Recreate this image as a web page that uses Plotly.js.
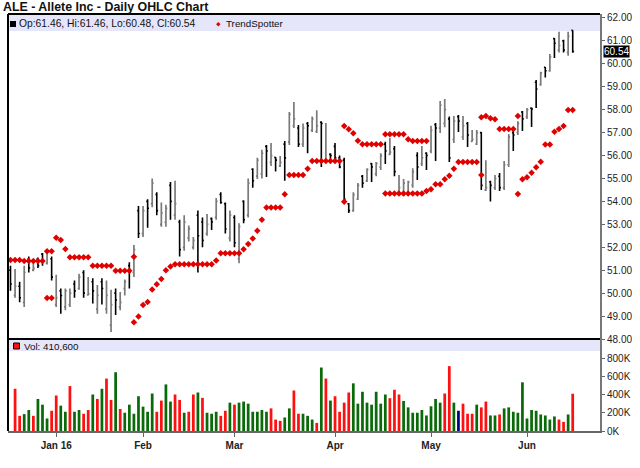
<!DOCTYPE html>
<html>
<head>
<meta charset="utf-8">
<script src="https://cdn.plot.ly/plotly-3.0.1.min.js"></script>
<style>
  html, body { margin: 0; padding: 0; background: #fff; }
  #chart { width: 640px; height: 468px; }
</style>
</head>
<body>
<div id="chart"></div>
<script>
// ---------- DATA ----------
const dates = [
"2015-12-17","2015-12-18","2015-12-21","2015-12-22","2015-12-23","2015-12-24","2015-12-28","2015-12-29","2015-12-30","2015-12-31",
"2016-01-04","2016-01-05","2016-01-06","2016-01-07","2016-01-08","2016-01-11","2016-01-12","2016-01-13","2016-01-14","2016-01-15",
"2016-01-19","2016-01-20","2016-01-21","2016-01-22","2016-01-25","2016-01-26","2016-01-27","2016-01-28","2016-01-29",
"2016-02-01","2016-02-02","2016-02-03","2016-02-04","2016-02-05","2016-02-08","2016-02-09","2016-02-10","2016-02-11","2016-02-12",
"2016-02-16","2016-02-17","2016-02-18","2016-02-19","2016-02-22","2016-02-23","2016-02-24","2016-02-25","2016-02-26","2016-02-29",
"2016-03-01","2016-03-02","2016-03-03","2016-03-04","2016-03-07","2016-03-08","2016-03-09","2016-03-10","2016-03-11",
"2016-03-14","2016-03-15","2016-03-16","2016-03-17","2016-03-18","2016-03-21","2016-03-22","2016-03-23","2016-03-24",
"2016-03-28","2016-03-29","2016-03-30","2016-03-31",
"2016-04-01","2016-04-04","2016-04-05","2016-04-06","2016-04-07","2016-04-08","2016-04-11","2016-04-12","2016-04-13","2016-04-14","2016-04-15",
"2016-04-18","2016-04-19","2016-04-20","2016-04-21","2016-04-22","2016-04-25","2016-04-26","2016-04-27","2016-04-28","2016-04-29",
"2016-05-02","2016-05-03","2016-05-04","2016-05-05","2016-05-06","2016-05-09","2016-05-10","2016-05-11","2016-05-12","2016-05-13",
"2016-05-16","2016-05-17","2016-05-18","2016-05-19","2016-05-20","2016-05-23","2016-05-24","2016-05-25","2016-05-26","2016-05-27","2016-05-31",
"2016-06-01","2016-06-02","2016-06-03","2016-06-06","2016-06-07","2016-06-08","2016-06-09","2016-06-10","2016-06-13","2016-06-14","2016-06-15"
];

const open = [
51.0,49.9,50.3,49.6,51.5,51.0,51.5,51.7,51.3,51.5,
49.5,50.1,49.4,49.5,50.4,50.2,50.9,49.92,50.5,49.3,
50.5,49.3,48.6,50.0,49.4,50.2,51.2,50.9,53.6,52.6,
54.0,53.9,54.3,53.0,53.1,54.7,53.4,53.1,52.0,52.4,
52.0,53.4,53.1,52.6,53.25,53.3,54.3,53.9,52.4,53.3,
51.5,54.0,53.4,55.4,55.1,55.2,56.4,55.7,55.92,55.55,
56.5,56.6,57.3,57.2,56.5,57.4,57.1,57.05,57.45,55.74,
56.05,56.4,55.9,55.8,53.9,53.6,54.1,55.1,54.9,55.65,
55.2,55.5,56.5,56.05,56.3,54.45,54.3,54.4,54.7,56.0,
55.65,56.1,56.2,57.35,57.2,57.4,57.6,56.7,57.7,56.8,
57.4,56.62,56.5,57.0,54.5,54.85,54.6,55.1,54.6,55.6,
57.0,57.0,57.9,57.7,58.07,59.2,59.1,59.85,59.7,61.1,
60.6,61.0,60.5,61.46
];
const high = [
51.2,51.05,50.5,51.2,51.6,51.45,51.55,51.75,51.9,51.6,
50.8,50.2,50.2,50.2,50.55,50.85,51.0,50.7,50.65,50.35,
50.65,50.55,50.15,50.2,50.05,50.6,51.35,52.1,53.8,53.8,
54.1,55.0,54.4,53.95,53.85,54.85,54.9,53.2,53.4,52.95,
52.45,53.6,53.3,53.45,53.3,54.15,54.4,53.95,53.6,53.4,
53.05,54.05,55.0,55.45,55.9,56.25,56.46,56.55,55.94,55.98,
56.64,57.9,58.34,57.33,57.4,57.46,57.7,57.98,57.5,57.42,
56.1,56.55,56.0,55.9,53.93,54.4,54.8,55.15,55.45,55.68,
55.72,56.1,56.6,56.77,56.42,55.15,54.98,54.9,55.45,56.15,
56.42,56.15,57.3,57.42,58.38,58.47,57.7,57.73,57.77,57.73,
57.46,57.11,57.11,57.03,55.8,54.9,55.15,55.24,55.76,56.94,
57.07,57.5,57.94,58.07,58.1,59.3,59.65,59.86,60.43,61.13,
61.4,61.05,61.4,61.46
];
const low = [
50.1,49.8,49.6,49.4,50.9,50.95,51.1,51.2,51.25,50.55,
49.4,49.1,49.25,49.4,49.8,50.15,49.8,49.9,49.55,49.1,
49.5,49.1,48.3,49.05,49.25,49.9,50.2,50.7,52.4,52.45,
52.85,53.75,53.4,52.9,52.9,53.2,53.2,51.6,51.85,52.25,
51.9,50.9,52.0,52.5,52.75,53.2,53.9,52.6,52.25,52.0,
51.3,53.05,53.3,54.6,54.98,55.0,55.06,55.55,55.3,55.5,
54.9,56.46,57.2,56.37,56.37,56.1,57.03,56.98,55.5,55.72,
55.72,55.8,55.45,53.97,53.5,53.55,54.06,54.6,54.85,54.85,
55.1,55.37,55.63,56.02,55.1,54.37,54.24,54.24,54.6,54.93,
55.55,55.37,56.1,55.76,56.98,57.24,55.72,56.55,57.03,56.68,
56.37,56.6,56.46,54.5,54.45,54.0,54.5,54.45,54.5,55.5,
56.2,56.9,57.07,57.6,57.25,58.07,59.04,59.4,59.65,60.26,
60.5,60.5,60.35,60.48
];
const close = [
50.4,50.3,49.8,50.9,51.1,51.08,51.2,51.35,51.8,50.7,
49.8,49.9,50.1,50.0,50.1,50.7,50.0,49.97,50.1,49.9,
50.2,49.9,49.5,49.7,49.6,50.5,50.9,51.9,52.6,53.6,
53.7,54.8,53.6,53.5,53.7,54.0,53.9,51.9,53.1,52.8,
52.3,52.5,52.3,53.0,53.1,54.0,53.95,52.8,53.4,52.2,
52.9,53.2,54.8,54.9,55.8,56.1,56.2,56.0,55.8,55.7,
55.9,57.8,57.6,56.5,57.2,57.3,57.6,57.3,57.4,55.8,
56.0,55.9,55.5,54.1,53.6,54.3,54.7,54.8,55.4,55.5,
55.65,56.0,56.2,56.15,55.3,54.6,54.8,54.85,55.3,55.5,
55.9,56.0,57.1,57.2,58.2,58.0,55.9,57.5,57.5,57.3,
56.9,56.7,57.0,54.7,54.6,54.7,55.0,54.6,55.6,56.8,
56.9,57.4,57.6,58.0,58.03,58.9,59.6,59.7,60.3,60.9,
60.8,60.6,61.2,60.54
];
const volume = [
null,465000,167000,186000,231000,167000,353000,290000,138000,223000,
391000,279000,212000,495000,212000,231000,190000,231000,402000,353000,
465000,577000,342000,647000,242000,201000,290000,190000,383000,268000,
212000,413000,212000,335000,513000,324000,402000,342000,201000,212000,
402000,424000,365000,201000,190000,212000,167000,223000,312000,290000,
312000,324000,301000,212000,212000,231000,212000,249000,126000,112000,
149000,249000,446000,190000,190000,167000,126000,89000,699000,577000,
335000,383000,212000,312000,424000,525000,301000,432000,312000,290000,
432000,301000,402000,361000,454000,402000,331000,260000,201000,201000,
231000,171000,272000,353000,312000,413000,714000,312000,223000,301000,
190000,190000,290000,260000,324000,171000,171000,182000,249000,260000,
212000,201000,536000,138000,231000,223000,182000,171000,126000,160000,
126000,100000,182000,410600
];
const trendUpper = [
51.45,51.45,51.45,51.4,51.4,51.4,51.4,51.4,51.83,51.83,
52.42,52.32,51.93,51.56,51.56,51.56,51.56,51.56,51.2,51.2,
51.2,51.2,51.2,50.98,50.98,50.98,50.98,51.59,null,null,
null,null,null,null,null,null,null,null,null,null,
null,null,null,null,null,null,null,null,null,null,
null,null,null,null,null,null,null,null,null,null,
null,null,null,null,null,null,null,null,null,null,
null,null,null,57.29,57.15,56.97,56.65,56.49,56.49,56.49,
56.49,56.49,56.93,56.93,56.93,56.93,56.93,56.71,56.64,56.64,
56.64,56.64,null,null,null,null,null,null,null,null,
null,null,null,57.67,57.73,57.63,57.58,57.16,57.16,57.16,
57.16,57.73,null,null,null,null,null,null,null,null,
null,null,null,null
];
const trendLower = [
null,null,null,null,null,null,null,null,49.79,49.79,
null,null,null,null,null,null,null,null,null,null,
null,null,null,null,null,null,null,48.73,48.98,49.48,
49.61,50.16,50.39,50.62,51.0,51.16,51.26,51.26,51.26,51.26,
51.26,51.26,51.26,51.26,51.26,51.42,51.74,51.74,51.74,51.74,
51.74,51.91,52.14,52.38,52.72,53.2,53.73,53.73,53.73,53.73,
54.31,55.15,55.15,55.15,55.15,55.43,55.76,55.76,55.76,55.76,
55.76,55.76,55.76,53.99,null,null,null,null,null,null,
null,null,54.35,54.35,54.35,54.35,54.35,54.35,54.35,54.35,
54.35,54.45,54.53,54.75,54.75,54.97,55.12,55.43,55.72,55.72,
55.72,55.72,55.72,55.15,null,null,null,null,null,null,
null,54.32,54.97,55.05,55.25,55.49,55.73,56.48,56.48,57.04,
57.16,57.29,57.99,57.99
];
const tickDates  = ["2016-01-04","2016-02-01","2016-03-01","2016-04-01","2016-05-02","2016-06-01"];
const tickLabels = ["Jan 16","Feb","Mar","Apr","May","Jun"];
const volTicks   = [0,200000,400000,600000,800000];
const volTickLabels = ["0K","200K","400K","600K","800K"];

// ---------- DERIVED ----------
const n = close.length;
const volColors = close.map((c, i) => {
  if (i === 0) return '#0a6a0a';
  const d = c - close[i - 1];
  if (Math.abs(d) < 1e-9) return '#000080';
  return d > 0 ? '#0a6a0a' : '#ff1010';
});
const last = n - 1;
const ohlcText = 'Op:' + open[last].toFixed(2) + ', Hi:' + high[last].toFixed(2) +
                 ', Lo:' + low[last].toFixed(2) + ', Cl:' + close[last].toFixed(2);
const volText = 'Vol: ' + volume[last].toLocaleString('en-US');

// pixel helpers for decoration placement (plot area: x 8..600, y 14..431)
const px = v => (v - 8) / 592;
const py = v => (431 - v) / 417;

const traces = [
  {
    type: 'ohlc', x: dates, open: open, high: high, low: low, close: close,
    xaxis: 'x', yaxis: 'y',
    increasing: { line: { color: '#7a7a7a', width: 1.7 } },
    decreasing: { line: { color: '#000000', width: 1.6 } },
    tickwidth: 0.3, hoverinfo: 'skip'
  },
  {
    type: 'scatter', mode: 'markers', x: dates, y: trendUpper, xaxis: 'x', yaxis: 'y',
    marker: { symbol: 'diamond', size: 5, color: '#e00000' }, hoverinfo: 'skip'
  },
  {
    type: 'scatter', mode: 'markers', x: dates, y: trendLower, xaxis: 'x', yaxis: 'y',
    marker: { symbol: 'diamond', size: 5, color: '#e00000' }, hoverinfo: 'skip'
  },
  {
    type: 'bar', x: dates, y: volume, xaxis: 'x', yaxis: 'y2',
    marker: { color: volColors, line: { width: 0 } }, width: 0.6, hoverinfo: 'skip'
  }
];

const layout = {
  width: 640, height: 468,
  margin: { l: 8, r: 40, t: 14, b: 37, pad: 0 },
  paper_bgcolor: '#ffffff', plot_bgcolor: '#ffffff',
  showlegend: false,
  font: { family: 'Liberation Sans, Arial, sans-serif', size: 10, color: '#222' },
  xaxis: {
    type: 'category', range: [-0.547, 128.97], anchor: 'y2',
    tickmode: 'array', tickvals: tickDates, ticktext: tickLabels,
    ticks: 'outside', ticklen: 4, tickcolor: '#666', tickwidth: 1,
    showline: true, linecolor: '#666', linewidth: 2,
    showgrid: false, zeroline: false,
    rangeslider: { visible: false },
    tickfont: { size: 10, weight: 'bold', color: '#222' }
  },
  yaxis: {
    domain: [py(339), 1], range: [48, 62.174], side: 'right', anchor: 'x',
    tickmode: 'linear', tick0: 48, dtick: 1, tickformat: '.2f',
    ticks: 'outside', ticklen: 3, tickcolor: '#666',
    showline: true, linecolor: '#777', linewidth: 2,
    showgrid: false, zeroline: false,
    tickfont: { size: 10, color: '#222' }
  },
  yaxis2: {
    domain: [0, py(339)], range: [0, 1013000], side: 'right', anchor: 'x',
    tickmode: 'array', tickvals: volTicks, ticktext: volTickLabels,
    ticks: 'outside', ticklen: 3, tickcolor: '#666',
    showline: true, linecolor: '#777', linewidth: 2,
    showgrid: false, zeroline: false,
    tickfont: { size: 10, color: '#222' }
  },
  shapes: [
    { type: 'rect', xref: 'paper', yref: 'paper', x0: 0, x1: 1, y0: py(31), y1: 1,
      fillcolor: '#e6e6fa', line: { width: 0 }, layer: 'below' },
    { type: 'rect', xref: 'paper', yref: 'paper', x0: 0, x1: 1, y0: py(351), y1: py(340),
      fillcolor: '#e6e6fa', line: { width: 0 }, layer: 'below' },
    { type: 'line', xref: 'paper', yref: 'paper', x0: 0, x1: 1, y0: 1, y1: 1,
      line: { color: '#000', width: 2 } },
    { type: 'line', xref: 'paper', yref: 'paper', x0: 0, x1: 1, y0: py(339), y1: py(339),
      line: { color: '#000', width: 2 } },
    { type: 'line', xref: 'paper', yref: 'paper', x0: 0, x1: 0, y0: 0, y1: 1,
      line: { color: '#000', width: 2 } },
    { type: 'rect', xref: 'paper', yref: 'paper', x0: px(10), x1: px(16), y0: py(27), y1: py(21),
      fillcolor: '#000', line: { width: 0 } },
    { type: 'path', xref: 'paper', yref: 'paper',
      path: 'M ' + px(218.3) + ' ' + py(22) + ' L ' + px(220.5) + ' ' + py(24.2) + ' L ' + px(218.3) + ' ' + py(26.4) +
            ' L ' + px(216.1) + ' ' + py(24.2) + ' Z',
      fillcolor: '#e00000', line: { width: 0 } },
    { type: 'rect', xref: 'paper', yref: 'paper', x0: px(13.5), x1: px(19.5), y0: py(349), y1: py(343),
      fillcolor: '#ff1010', line: { color: '#000', width: 1 } }
  ],
  annotations: [
    { xref: 'paper', yref: 'paper', x: px(1), y: py(7), xanchor: 'left', yanchor: 'middle',
      text: '<b>ALE - Allete Inc - Daily OHLC Chart</b>', showarrow: false,
      font: { size: 12.4, color: '#111' } },
    { xref: 'paper', yref: 'paper', x: px(17), y: py(24), xanchor: 'left', yanchor: 'middle',
      text: ohlcText, showarrow: false, font: { size: 10.3, color: '#111' } },
    { xref: 'paper', yref: 'paper', x: px(224), y: py(24), xanchor: 'left', yanchor: 'middle',
      text: 'TrendSpotter', showarrow: false, font: { size: 9.8, color: '#111' } },
    { xref: 'paper', yref: 'paper', x: px(22), y: py(346), xanchor: 'left', yanchor: 'middle',
      text: volText, showarrow: false, font: { size: 9.8, color: '#111' } },
    { xref: 'paper', yref: 'y', x: 1, xshift: 3, y: close[last], xanchor: 'left', yanchor: 'middle',
      text: close[last].toFixed(2), showarrow: false, bgcolor: '#000', borderpad: 0,
      font: { size: 10, color: '#fff' } }
  ]
};

Plotly.newPlot('chart', traces, layout, { displayModeBar: false, staticPlot: true });
</script>
</body>
</html>
